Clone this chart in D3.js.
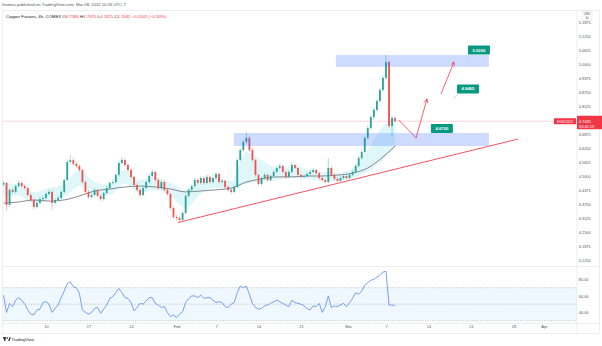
<!DOCTYPE html>
<html>
<head>
<meta charset="utf-8">
<script src="https://cdn.jsdelivr.net/npm/d3@7"></script>
<style>
  body { margin: 0; background: #fff; }
  svg { display: block; font-family: "Liberation Sans", Arial, sans-serif; }
</style>
</head>
<body>
<svg id="chart" width="602" height="346"></svg>
<script>
// Copper Futures (HG, COMEX), 4h-style bars, bar index 0 = first bar of Jan 3 week
const opens = [
  4.462,4.469,4.371,4.438,4.429,4.455,4.469,4.455,4.446,4.415,
  4.393,4.362,4.380,4.397,4.402,4.420,4.429,4.380,4.393,4.402,
  4.429,4.482,4.563,4.571,4.554,4.545,4.527,4.473,4.429,4.406,
  4.415,4.438,4.411,4.397,4.424,4.446,4.469,4.473,4.505,4.558,
  4.571,4.549,4.527,4.496,4.460,4.438,4.415,4.446,4.473,4.500,
  4.518,4.482,4.446,4.473,4.438,4.420,4.357,4.317,4.313,4.304,
  4.335,4.411,4.438,4.455,4.482,4.469,4.491,4.469,4.496,4.473,
  4.491,4.509,4.473,4.478,4.451,4.438,4.429,4.451,4.571,4.616,
  4.652,4.670,4.616,4.571,4.505,4.464,4.491,4.505,4.482,4.500,
  4.518,4.536,4.545,4.518,4.496,4.518,4.549,4.536,4.505,4.496,
  4.500,4.509,4.518,4.527,4.513,4.491,4.482,4.473,4.536,4.505,
  4.487,4.478,4.491,4.500,4.491,4.505,4.518,4.545,4.580,4.607,
  4.670,4.714,4.763,4.795,4.835,4.884,4.938,5.009,4.723,4.758
];
const highs = [
  4.478,4.474,4.446,4.447,4.463,4.481,4.475,4.462,4.452,4.424,
  4.398,4.389,4.406,4.412,4.427,4.440,4.434,4.401,4.410,4.436,
  4.490,4.575,4.594,4.580,4.566,4.552,4.533,4.480,4.436,4.424,
  4.446,4.443,4.418,4.430,4.455,4.476,4.484,4.512,4.566,4.585,
  4.578,4.557,4.533,4.502,4.468,4.444,4.453,4.480,4.508,4.530,
  4.524,4.490,4.480,4.478,4.444,4.425,4.364,4.326,4.320,4.342,
  4.418,4.446,4.462,4.492,4.489,4.500,4.497,4.505,4.502,4.500,
  4.518,4.514,4.487,4.483,4.458,4.444,4.458,4.578,4.624,4.662,
  4.696,4.680,4.624,4.577,4.511,4.499,4.514,4.511,4.508,4.526,
  4.546,4.556,4.551,4.525,4.526,4.562,4.555,4.542,4.512,4.507,
  4.516,4.526,4.536,4.533,4.519,4.498,4.488,4.580,4.543,4.512,
  4.494,4.498,4.507,4.506,4.513,4.526,4.553,4.590,4.618,4.679,
  4.725,4.772,4.806,4.846,4.893,4.950,5.0405,5.015,4.768,4.767
];
const lows = [
  4.455,4.348,4.365,4.420,4.422,4.449,4.447,4.438,4.408,4.386,
  4.352,4.356,4.373,4.390,4.396,4.414,4.350,4.373,4.386,4.396,
  4.423,4.476,4.555,4.546,4.536,4.520,4.466,4.420,4.398,4.400,
  4.409,4.404,4.388,4.391,4.418,4.440,4.462,4.467,4.499,4.552,
  4.541,4.519,4.488,4.453,4.430,4.404,4.409,4.440,4.467,4.494,
  4.475,4.438,4.440,4.431,4.412,4.349,4.309,4.302,4.294,4.298,
  4.329,4.404,4.431,4.449,4.461,4.463,4.461,4.463,4.466,4.467,
  4.485,4.466,4.467,4.444,4.430,4.420,4.423,4.446,4.565,4.610,
  4.645,4.608,4.563,4.497,4.455,4.458,4.485,4.475,4.476,4.494,
  4.512,4.530,4.511,4.488,4.490,4.512,4.530,4.498,4.488,4.490,
  4.494,4.503,4.512,4.506,4.484,4.475,4.465,4.468,4.498,4.480,
  4.471,4.472,4.485,4.484,4.485,4.499,4.512,4.539,4.574,4.601,
  4.662,4.707,4.755,4.788,4.828,4.877,4.930,4.715,4.676,4.7425
];
const closes = [
  4.469,4.371,4.438,4.429,4.455,4.469,4.455,4.446,4.415,4.393,
  4.362,4.380,4.397,4.402,4.420,4.429,4.380,4.393,4.402,4.429,
  4.482,4.563,4.571,4.554,4.545,4.527,4.473,4.429,4.406,4.415,
  4.438,4.411,4.397,4.424,4.446,4.469,4.473,4.505,4.558,4.571,
  4.549,4.527,4.496,4.460,4.438,4.415,4.446,4.473,4.500,4.518,
  4.482,4.446,4.473,4.438,4.420,4.357,4.317,4.313,4.304,4.335,
  4.411,4.438,4.455,4.482,4.469,4.491,4.469,4.496,4.473,4.491,
  4.509,4.473,4.478,4.451,4.438,4.429,4.451,4.571,4.616,4.652,
  4.670,4.616,4.571,4.505,4.464,4.491,4.505,4.482,4.500,4.518,
  4.536,4.545,4.518,4.496,4.518,4.549,4.536,4.505,4.496,4.500,
  4.509,4.518,4.527,4.513,4.491,4.482,4.473,4.536,4.505,4.487,
  4.478,4.491,4.500,4.491,4.505,4.518,4.545,4.580,4.607,4.670,
  4.714,4.763,4.795,4.835,4.884,4.938,5.009,4.723,4.759,4.7445
];

// RSI(14) per bar
const rsiValues = [
  61,40,51,47,55,58,55,50,43,38,
  37,43,44,52,53,50,40,45,49,58,
  66,75,77,71,70,63,43,40,38,40,
  45,46,39,44,49,57,59,64,69,64,
  58,57,52,42,46,51,50,54,58,58,
  51,49,46,47,40,35,37,34,38,41,
  52,57,60,60,58,61,57,58,58,55,
  52,53,52,47,46,50,52,64,72,70,
  72,62,51,46,44,45,48,49,51,53,
  55,53,51,49,47,55,52,51,50,48,
  45,43,48,47,51,40,47,60,46,48,
  47,49,51,47,52,57,64,62,66,73,
  76,79,80,83,85,89,90,49,49,48
];

// Moving average and ribbon, sampled every 5 bars
const overlayIdx = [0,5,10,15,20,25,30,35,40,45,50,55,60,65,70,75,80,85,90,95,100,105,110,115,120,125,129];
const maValues = [4.379,4.384,4.393,4.388,4.393,4.411,4.433,4.442,4.451,4.455,4.451,4.442,4.429,4.433,4.438,4.446,4.473,4.487,4.496,4.496,4.500,4.500,4.504,4.513,4.536,4.585,4.634];
const ribbonUpper = [4.469,4.460,4.429,4.446,4.464,4.527,4.473,4.460,4.527,4.482,4.496,4.469,4.438,4.473,4.491,4.478,4.607,4.571,4.536,4.540,4.531,4.518,4.513,4.536,4.616,4.723,4.768];
const ribbonLower = [4.411,4.411,4.379,4.393,4.406,4.455,4.415,4.415,4.464,4.424,4.438,4.411,4.357,4.420,4.446,4.438,4.464,4.473,4.482,4.491,4.487,4.478,4.478,4.491,4.518,4.571,4.625];

// Axis ticks
const priceTicks = [4.125,4.1875,4.25,4.3125,4.375,4.4375,4.5,4.5625,4.625,4.6875,4.75,4.8125,4.875,4.9375,5.0,5.0625,5.125,5.1875];
const rsiTicks = [40, 60, 80];
const timeTickIdx = [14, 28, 42, 57, 70, 84, 98, 113.5, 126, 140, 154, 168, 178];
const timeTickLabels = ["10","17","24","Feb","7","14","21","Mar","7","14","21","28","Apr"];

// Drawings: supply/demand zones, trendline, projected path, price notes
const zoneStart = [109.5, 75.9];
const zoneEnd = [159.9, 159.9];
const zoneTop = [5.040, 4.692];
const zoneBottom = [4.987, 4.634];
const trendIdx = [57.5, 169.5];
const trendPrice = [4.2924, 4.665];
const pathLeg1Idx = [130.2, 135.9, 139.5];
const pathLeg1Price = [4.750, 4.670, 4.844];
const pathLeg2Idx = [144.1, 148.4];
const pathLeg2Price = [4.866, 5.009];
const noteIdx = [152.0, 148.4, 139.8];
const notePrice = [5.02, 4.8465, 4.67];

const lastPrice = closes[closes.length - 1];

const svg = d3.select("#chart");
const L = 3, R = 577, TOP = 10.5, PRICE_BOTTOM = 266.5, RSI_BOTTOM = 323.5, AXIS_BOTTOM = 333.5;
const UP = "#26a69a", DOWN = "#ef5350";

const x = d3.scaleLinear().domain([14, 126]).range([46, 386]);
const y = d3.scaleLinear().domain([4.125, 5.0]).range([260, 64]);
const yR = d3.scaleLinear().domain([30, 70]).range([320.7, 287.7]);

const defs = svg.append("defs");
defs.append("clipPath").attr("id", "clipPrice")
  .append("rect").attr("x", L).attr("y", TOP).attr("width", R - L).attr("height", PRICE_BOTTOM - TOP);
defs.append("clipPath").attr("id", "clipRsi")
  .append("rect").attr("x", L).attr("y", PRICE_BOTTOM).attr("width", R - L).attr("height", RSI_BOTTOM - PRICE_BOTTOM);
defs.append("marker").attr("id", "arrowHead")
  .attr("viewBox", "0 0 10 10").attr("refX", 9).attr("refY", 5)
  .attr("markerWidth", 5).attr("markerHeight", 5)
  .attr("markerUnits", "userSpaceOnUse").attr("orient", "auto")
  .append("path").attr("d", "M1,1 L9,5 L1,9")
  .attr("fill", "none").attr("stroke", "#f23645").attr("stroke-width", 1.4);

// Header line above the chart frame
svg.append("text").attr("x", 2).attr("y", 6.3)
  .attr("font-size", 4.2).attr("fill", "#50535e")
  .text("thomas published on TradingView.com, Mar 08, 2022 10:26 UTC-7");

// Frame and pane separators
svg.append("rect").attr("x", 2.5).attr("y", TOP).attr("width", 597).attr("height", AXIS_BOTTOM - TOP)
  .attr("fill", "none").attr("stroke", "#e0e3eb").attr("stroke-width", 0.6);
svg.append("line").attr("x1", R).attr("x2", R).attr("y1", TOP).attr("y2", AXIS_BOTTOM)
  .attr("stroke", "#e0e3eb").attr("stroke-width", 0.6);
svg.append("line").attr("x1", L).attr("x2", 600).attr("y1", PRICE_BOTTOM).attr("y2", PRICE_BOTTOM)
  .attr("stroke", "#e0e3eb").attr("stroke-width", 0.6);
svg.append("line").attr("x1", L).attr("x2", 600).attr("y1", RSI_BOTTOM).attr("y2", RSI_BOTTOM)
  .attr("stroke", "#e0e3eb").attr("stroke-width", 0.6);

// ---------- Price pane ----------
const pricePane = svg.append("g").attr("clip-path", "url(#clipPrice)");

const overlay = overlayIdx.map((i, k) => ({ i, ma: maValues[k], up: ribbonUpper[k], lo: ribbonLower[k] }));
pricePane.append("path").datum(overlay)
  .attr("d", d3.area().x(d => x(d.i)).y0(d => y(d.lo)).y1(d => y(d.up)).curve(d3.curveMonotoneX))
  .attr("fill", "#00bcd4").attr("fill-opacity", 0.12);

pricePane.append("path").datum(overlay)
  .attr("d", d3.line().x(d => x(d.i)).y(d => y(d.ma)).curve(d3.curveMonotoneX))
  .attr("fill", "none").attr("stroke", "#6a6d78").attr("stroke-width", 0.8);

const bars = closes.map((c, i) => ({ i, o: opens[i], h: highs[i], l: lows[i], c }));
const candle = pricePane.append("g").selectAll("g").data(bars).join("g");
candle.append("line")
  .attr("x1", d => x(d.i)).attr("x2", d => x(d.i))
  .attr("y1", d => y(d.h)).attr("y2", d => y(d.l))
  .attr("stroke", d => d.c >= d.o ? UP : DOWN).attr("stroke-opacity", 0.5).attr("stroke-width", 0.8);
candle.append("rect")
  .attr("x", d => x(d.i) - 0.9).attr("width", 1.8)
  .attr("y", d => y(Math.max(d.o, d.c)))
  .attr("height", d => Math.max(0.6, Math.abs(y(d.o) - y(d.c))))
  .attr("fill", d => d.c >= d.o ? UP : DOWN);

// Last price line
pricePane.append("line").attr("x1", L).attr("x2", R)
  .attr("y1", y(lastPrice)).attr("y2", y(lastPrice))
  .attr("stroke", "#f23645").attr("stroke-opacity", 0.35).attr("stroke-width", 0.6);

// Zones
zoneStart.forEach((s, k) => {
  pricePane.append("rect")
    .attr("x", x(s)).attr("width", x(zoneEnd[k]) - x(s))
    .attr("y", y(zoneTop[k])).attr("height", y(zoneBottom[k]) - y(zoneTop[k]))
    .attr("fill", "#2962ff").attr("fill-opacity", 0.23);
});

// Rising trendline
pricePane.append("line")
  .attr("x1", x(trendIdx[0])).attr("y1", y(trendPrice[0]))
  .attr("x2", x(trendIdx[1])).attr("y2", y(trendPrice[1]))
  .attr("stroke", "#f7525f").attr("stroke-width", 1);

// Projected path
const pathLine = d3.line().x(d => x(d[0])).y(d => y(d[1]));
[[pathLeg1Idx, pathLeg1Price], [pathLeg2Idx, pathLeg2Price]].forEach(([idx, pr]) => {
  pricePane.append("path").datum(idx.map((v, k) => [v, pr[k]]))
    .attr("d", pathLine).attr("fill", "none")
    .attr("stroke", "#f23645").attr("stroke-opacity", 0.85).attr("stroke-width", 0.9)
    .attr("marker-end", "url(#arrowHead)");
});

// Price notes
const fmt4 = d3.format(".4f");
noteIdx.forEach((ni, k) => {
  const ax = x(ni), ay = y(notePrice[k]);
  const bx = ax + 3, by = ay - 14;
  pricePane.append("line").attr("x1", ax).attr("y1", ay).attr("x2", bx + 1).attr("y2", by + 9)
    .attr("stroke", "#9fded2").attr("stroke-width", 0.8);
  pricePane.append("circle").attr("cx", ax).attr("cy", ay).attr("r", 0.7).attr("fill", "#d5f2ec");
  pricePane.append("rect").attr("x", bx).attr("y", by).attr("width", 22).attr("height", 9)
    .attr("rx", 1).attr("fill", "#089981");
  pricePane.append("text").attr("x", bx + 11).attr("y", by + 6)
    .attr("text-anchor", "middle").attr("font-size", 4.2).attr("font-weight", "bold")
    .attr("fill", "#fff").text(fmt4(notePrice[k]));
});

// Legend
const legend = svg.append("text").attr("x", 6).attr("y", 17.5).attr("font-size", 4.3).attr("fill", "#131722");
legend.append("tspan").text("Copper Futures, 4h, COMEX  ");
const ohlc = [["O", opens[opens.length - 1]], ["H", highs[highs.length - 1]], ["L", lows[lows.length - 1]], ["C", lastPrice]];
ohlc.forEach(([k, v]) => {
  legend.append("tspan").attr("fill", "#131722").text(k);
  legend.append("tspan").attr("fill", "#f23645").text(fmt4(v) + "  ");
});
const chg = lastPrice - closes[closes.length - 2];
legend.append("tspan").attr("fill", "#f23645")
  .text(`${d3.format(".4f")(chg).replace("-", "−")} (${d3.format(".2f")(chg / closes[closes.length - 2] * 100).replace("-", "−")}%)`);

// ---------- RSI pane ----------
const rsiPane = svg.append("g").attr("clip-path", "url(#clipRsi)");
rsiPane.append("rect").attr("x", L).attr("width", R - L)
  .attr("y", yR(70)).attr("height", yR(30) - yR(70))
  .attr("fill", "#2196f3").attr("fill-opacity", 0.07);
[70, 50, 30].forEach(v => {
  rsiPane.append("line").attr("x1", L).attr("x2", R).attr("y1", yR(v)).attr("y2", yR(v))
    .attr("stroke", "#a3a6af").attr("stroke-width", 0.6).attr("stroke-dasharray", v === 50 ? "1.2,1.6" : "1,1.2");
});
rsiPane.append("path").datum(rsiValues)
  .attr("d", d3.line().x((d, i) => x(i)).y(d => yR(d)))
  .attr("fill", "none").attr("stroke", "#5b8ae8").attr("stroke-width", 0.8);

// ---------- Axes ----------
function styleAxis(g) {
  g.select(".domain").remove();
  g.attr("font-family", null).attr("font-size", null);
  g.selectAll("text").attr("font-size", 3.9).attr("fill", "#50535e");
}
svg.append("g").attr("transform", `translate(${R},0)`)
  .call(d3.axisRight(y).tickValues(priceTicks).tickSize(0).tickPadding(1.8).tickFormat(fmt4))
  .call(styleAxis);
svg.append("g").attr("transform", `translate(${R},0)`)
  .call(d3.axisRight(yR).tickValues(rsiTicks).tickSize(0).tickPadding(1.8).tickFormat(d3.format(".2f")))
  .call(styleAxis);
svg.append("g").attr("transform", `translate(0,${RSI_BOTTOM})`)
  .call(d3.axisBottom(x).tickValues(timeTickIdx).tickSize(0).tickPadding(2.2).tickFormat((d, i) => timeTickLabels[i]))
  .call(styleAxis);

// Unit box on the price scale
svg.append("rect").attr("x", 582).attr("y", 11).attr("width", 10).attr("height", 9.2)
  .attr("rx", 2).attr("fill", "#fff").attr("stroke", "#d1d4dc").attr("stroke-width", 0.5);
svg.append("text").attr("x", 587).attr("y", 14.9).attr("text-anchor", "middle")
  .attr("font-size", 3.2).attr("fill", "#50535e").text("USD");
svg.append("text").attr("x", 587).attr("y", 18.9).attr("text-anchor", "middle")
  .attr("font-size", 3.2).attr("fill", "#50535e").text("lb");

// Last price tag and symbol tag
const ly = y(lastPrice);
svg.append("rect").attr("x", R).attr("y", ly - 5.5).attr("width", 25).attr("height", 13.5).attr("fill", "#f23645");
svg.append("text").attr("x", R + 2).attr("y", ly + 1.3).attr("font-size", 3.9).attr("fill", "#fff").text(fmt4(lastPrice));
svg.append("text").attr("x", R + 2).attr("y", ly + 6.3).attr("font-size", 3.9).attr("fill", "#fff").text("03:45:19");
svg.append("rect").attr("x", 554).attr("y", ly - 3).attr("width", 22).attr("height", 6).attr("fill", "#f23645");
svg.append("text").attr("x", 565).attr("y", ly + 1.4).attr("text-anchor", "middle")
  .attr("font-size", 3.6).attr("fill", "#fff").text("HGK2022");

// Branding
const logo = svg.append("g").attr("transform", "translate(3,337.3)").attr("fill", "#131722");
logo.append("rect").attr("x", 0).attr("y", 0).attr("width", 3.2).attr("height", 1.3);
logo.append("rect").attr("x", 1.1).attr("y", 0).attr("width", 1.3).attr("height", 3.6);
logo.append("circle").attr("cx", 4.4).attr("cy", 0.8).attr("r", 0.75);
logo.append("path").attr("d", "M5.2,3.6 L6.6,0 L7.8,0 L6.4,3.6 Z");
svg.append("text").attr("x", 11.5).attr("y", 340.6).attr("font-size", 4.1).attr("fill", "#131722").text("TradingView");
</script>
</body>
</html>
